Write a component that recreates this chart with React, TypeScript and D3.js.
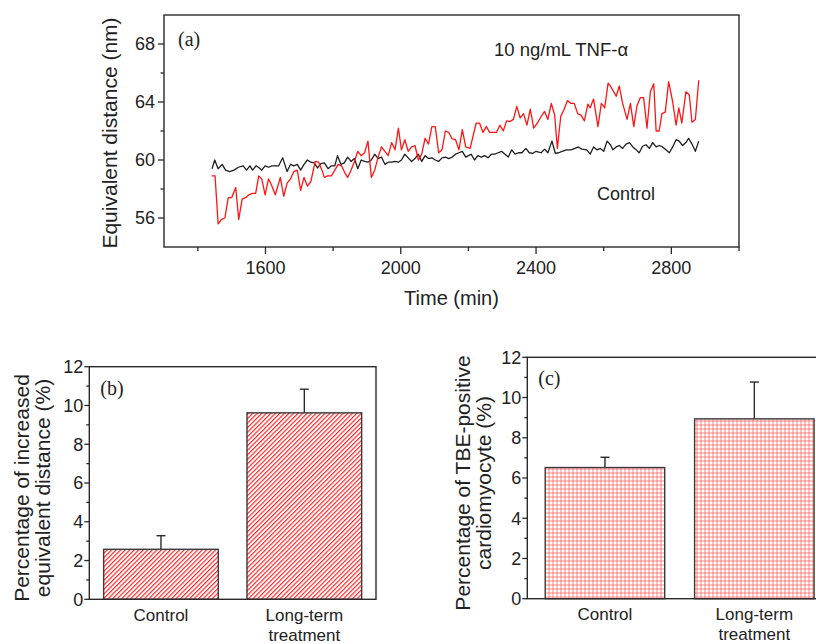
import React from "react";
import * as d3 from "d3";

// panel (a): equivalent distance over time
const tnfPoints: [number, number][] = [
  [1441, 58.9], [1451, 58.9], [1460, 55.6], [1470, 55.9], [1480, 56.0], [1490, 57.4], [1500, 57.4],
  [1512, 58.1], [1521, 55.9], [1531, 57.3], [1541, 57.4], [1551, 57.6], [1561, 57.7], [1571, 57.7],
  [1580, 58.9], [1589, 58.7], [1599, 57.6], [1609, 58.7], [1619, 58.2], [1629, 57.6], [1644, 58.8],
  [1654, 57.5], [1664, 58.4], [1674, 58.7], [1684, 59.2], [1694, 59.3], [1704, 57.9], [1714, 58.8],
  [1724, 58.2], [1734, 58.5], [1747, 59.9], [1757, 59.85], [1767, 59.3], [1774, 58.8], [1784, 58.9],
  [1795, 58.9], [1805, 59.3], [1815, 59.7], [1825, 59.6], [1835, 59.1], [1843, 58.8], [1853, 59.3],
  [1863, 59.9], [1873, 60.6], [1883, 60.3], [1893, 60.5], [1903, 61.3], [1913, 58.8], [1923, 59.3],
  [1933, 60.2], [1943, 60.9], [1953, 60.6], [1963, 60.3], [1973, 61.2], [1983, 60.7], [1993, 62.2],
  [2002, 60.7], [2012, 61.4], [2022, 60.6], [2032, 60.9], [2042, 61.0], [2052, 60.0], [2062, 60.4],
  [2072, 61.5], [2082, 61.1], [2092, 62.3], [2102, 62.3], [2112, 60.5], [2122, 60.7], [2132, 62.0],
  [2142, 61.9], [2152, 61.45], [2162, 61.4], [2172, 60.7], [2182, 62.1], [2192, 60.9], [2205, 60.8],
  [2223, 62.55], [2233, 62.55], [2243, 61.9], [2253, 62.3], [2263, 61.9], [2273, 61.9], [2283, 61.9],
  [2293, 62.4], [2303, 62.0], [2313, 62.7], [2323, 62.65], [2333, 62.8], [2343, 63.7], [2353, 62.9],
  [2363, 63.2], [2373, 62.4], [2383, 63.5], [2393, 62.2], [2405, 62.6], [2415, 63.0], [2425, 63.35],
  [2435, 62.8], [2445, 63.9], [2455, 63.1], [2463, 60.8], [2473, 63.0], [2483, 63.5], [2493, 64.1],
  [2503, 63.9], [2513, 63.9], [2523, 63.2], [2533, 63.1], [2543, 62.7], [2553, 63.85], [2560, 63.6],
  [2570, 64.2], [2583, 62.3], [2593, 63.9], [2603, 63.6], [2613, 65.3], [2620, 65.1], [2627, 64.8],
  [2637, 64.4], [2646, 65.1], [2656, 63.9], [2669, 62.8], [2679, 63.9], [2689, 62.3], [2698, 63.7],
  [2708, 64.3], [2718, 64.3], [2728, 62.2], [2738, 64.7], [2748, 65.25], [2755, 62.0], [2764, 62.0],
  [2772, 63.2], [2782, 63.3], [2792, 65.4], [2804, 64.0], [2814, 62.4], [2822, 63.6], [2831, 62.55],
  [2843, 64.7], [2853, 64.5], [2861, 62.6], [2871, 62.8], [2881, 65.5],
];

const controlPoints: [number, number][] = [
  [1442, 59.4], [1450, 60.0], [1460, 59.4], [1472, 59.7], [1482, 59.3], [1494, 59.2], [1507, 59.3],
  [1520, 59.5], [1534, 59.6], [1544, 59.3], [1554, 59.6], [1562, 59.3], [1572, 59.6], [1582, 59.45],
  [1589, 59.3], [1599, 59.6], [1609, 59.5], [1619, 59.6], [1629, 59.6], [1639, 59.6], [1651, 60.15],
  [1664, 59.2], [1674, 59.7], [1684, 59.6], [1694, 59.7], [1704, 59.3], [1714, 59.7], [1724, 60.0],
  [1734, 59.85], [1744, 59.8], [1754, 59.45], [1764, 59.75], [1774, 59.8], [1785, 59.4], [1795, 59.6],
  [1805, 59.6], [1813, 60.3], [1823, 59.7], [1833, 59.8], [1843, 60.2], [1853, 59.9], [1863, 60.1],
  [1873, 59.4], [1883, 60.0], [1893, 59.9], [1903, 59.85], [1913, 60.0], [1923, 60.4], [1933, 60.1],
  [1943, 60.2], [1953, 59.7], [1963, 59.85], [1973, 59.85], [1983, 59.9], [1993, 59.85], [2002, 60.0],
  [2012, 60.4], [2022, 60.15], [2032, 59.9], [2042, 60.1], [2052, 60.4], [2062, 59.9], [2072, 60.3],
  [2082, 60.1], [2092, 60.15], [2102, 60.0], [2112, 59.9], [2122, 60.15], [2132, 60.2], [2142, 60.1],
  [2152, 60.2], [2162, 60.4], [2172, 60.5], [2182, 60.6], [2192, 60.2], [2200, 60.3], [2208, 60.4],
  [2218, 60.0], [2228, 60.3], [2238, 60.2], [2248, 60.3], [2258, 60.15], [2268, 60.4], [2278, 60.4],
  [2288, 60.5], [2298, 60.6], [2308, 60.4], [2318, 60.2], [2328, 60.7], [2338, 60.4], [2348, 60.5],
  [2358, 60.5], [2370, 60.8], [2380, 60.5], [2390, 60.45], [2400, 60.6], [2415, 60.5], [2425, 60.75],
  [2435, 60.5], [2447, 61.3], [2457, 60.45], [2467, 60.5], [2477, 60.6], [2490, 60.7], [2503, 60.7],
  [2515, 60.8], [2525, 60.9], [2535, 60.75], [2550, 60.7], [2560, 60.4], [2570, 60.9], [2580, 60.7],
  [2590, 60.8], [2600, 60.6], [2610, 61.3], [2620, 61.05], [2627, 60.7], [2637, 60.9], [2646, 61.0],
  [2656, 60.8], [2666, 61.1], [2676, 61.2], [2686, 60.9], [2696, 60.7], [2705, 60.5], [2715, 60.95],
  [2725, 61.05], [2735, 60.8], [2745, 61.2], [2755, 60.9], [2764, 61.0], [2774, 60.9], [2784, 60.7],
  [2794, 60.5], [2804, 60.9], [2814, 61.4], [2823, 61.3], [2833, 61.0], [2843, 61.2], [2851, 61.5],
  [2861, 61.1], [2871, 60.6], [2881, 61.3],
];

const timeTicks = [1600, 2000, 2400, 2800];
const distanceTicks = [56, 60, 64, 68];

// panels (b) and (c)
const groups = ["Control", "Long-term treatment"];
const distanceIncrease = [2.58, 9.62];
const distanceIncreaseErr = [0.7, 1.22];
const tbePositive = [6.52, 8.94];
const tbePositiveErr = [0.51, 1.83];
const percentTicks = [0, 2, 4, 6, 8, 10, 12];

const SANS = "'Liberation Sans', Arial, sans-serif";
const SERIF = "'Liberation Serif', 'Times New Roman', serif";
const INK = "#2a2a2a";

function TimeCourse() {
  const x = d3.scaleLinear().domain([1300, 3000]).range([164, 739]);
  const y = d3.scaleLinear().domain([54, 70]).range([247, 15]);
  const line = d3
    .line<[number, number]>()
    .x((d) => x(d[0]))
    .y((d) => y(d[1]));
  const [x0, x1] = x.range();
  const [y0, y1] = y.range();
  const minorX = d3.range(1400, 3001, 400);
  const minorY = d3.range(58, 70, 4);

  return (
    <g>
      <path d={line(controlPoints) || ""} fill="none" stroke="#1e1e1e" strokeWidth={1.3} strokeLinejoin="round" />
      <path d={line(tnfPoints) || ""} fill="none" stroke="#ff1414" strokeWidth={1.3} strokeLinejoin="round" />
      <rect x={x0} y={y1} width={x1 - x0} height={y0 - y1} fill="none" stroke={INK} strokeWidth={1.4} />

      {timeTicks.map((t) => (
        <g key={t}>
          <line x1={x(t)} x2={x(t)} y1={y0} y2={y0 + 7} stroke={INK} strokeWidth={1.3} />
          <text x={x(t)} y={y0 + 27} textAnchor="middle" fontSize={18} fontFamily={SANS} fill="#222">
            {t}
          </text>
        </g>
      ))}
      {minorX.map((t) => (
        <line key={t} x1={x(t)} x2={x(t)} y1={y0} y2={y0 + 4} stroke={INK} strokeWidth={1.3} />
      ))}
      {distanceTicks.map((v) => (
        <g key={v}>
          <line x1={x0 - 6} x2={x0} y1={y(v)} y2={y(v)} stroke={INK} strokeWidth={1.3} />
          <text x={x0 - 9} y={y(v)} dy="0.36em" textAnchor="end" fontSize={18} fontFamily={SANS} fill="#222">
            {v}
          </text>
        </g>
      ))}
      {minorY.map((v) => (
        <line key={v} x1={x0 - 3.5} x2={x0} y1={y(v)} y2={y(v)} stroke={INK} strokeWidth={1.3} />
      ))}

      <text x={(x0 + x1) / 2} y={305} textAnchor="middle" fontSize={20} fontFamily={SANS} fill="#222">
        Time (min)
      </text>
      <text
        transform={`translate(117, ${(y0 + y1) / 2 + 2}) rotate(-90)`}
        textAnchor="middle"
        fontSize={21}
        fontFamily={SANS}
        fill="#222"
      >
        Equivalent distance (nm)
      </text>
      <text x={178} y={46} fontSize={20} fontFamily={SERIF} fill="#222">
        (a)
      </text>
      <text x={494} y={56} fontSize={18.5} fontFamily={SANS} fill="#222">
        10 ng/mL TNF-α
      </text>
      <text x={597} y={200} fontSize={18} fontFamily={SANS} fill="#222">
        Control
      </text>
    </g>
  );
}

type BarPanelProps = {
  left: number;
  right: number;
  top: number;
  bottom: number;
  values: number[];
  errors: number[];
  fill: string;
  tag: string;
  titleLines: string[];
  titleX: number[];
  catY: number;
  outer: number;
};

function BarPanel({ left, right, top, bottom, values, errors, fill, tag, titleLines, titleX, catY, outer }: BarPanelProps) {
  const x = d3.scaleBand<string>().domain(groups).range([left, right]).paddingInner(0.2).paddingOuter(outer);
  const y = d3.scaleLinear().domain([0, 12]).range([bottom, top]);
  const minor = d3.range(1, 12, 2);

  return (
    <g>
      {groups.map((g, i) => {
        const bx = x(g) || 0;
        const cx = bx + x.bandwidth() / 2;
        return (
          <g key={g}>
            <line x1={cx} x2={cx} y1={y(values[i])} y2={y(values[i] + errors[i])} stroke={INK} strokeWidth={1.4} />
            <line x1={cx - 4.5} x2={cx + 4.5} y1={y(values[i] + errors[i])} y2={y(values[i] + errors[i])} stroke={INK} strokeWidth={1.4} />
            <rect
              x={bx}
              y={y(values[i])}
              width={x.bandwidth()}
              height={y(0) - y(values[i])}
              fill={fill}
              stroke="#3a3a3a"
              strokeWidth={1.4}
            />
            {g.split(" ").map((word, k) => (
              <text
                key={word}
                x={cx}
                y={catY + k * 20}
                textAnchor="middle"
                fontSize={17}
                fontFamily={SANS}
                fill="#222"
              >
                {word}
              </text>
            ))}
          </g>
        );
      })}
      <rect x={left} y={top} width={right - left} height={bottom - top} fill="none" stroke={INK} strokeWidth={1.4} />
      {percentTicks.map((v) => (
        <g key={v}>
          <line x1={left - 5} x2={left} y1={y(v)} y2={y(v)} stroke={INK} strokeWidth={1.3} />
          <text x={left - 6} y={y(v)} dy="0.36em" textAnchor="end" fontSize={18} fontFamily={SANS} fill="#222">
            {v}
          </text>
        </g>
      ))}
      {minor.map((v) => (
        <line key={v} x1={left - 3} x2={left} y1={y(v)} y2={y(v)} stroke={INK} strokeWidth={1.3} />
      ))}
      {titleLines.map((t, k) => (
        <text
          key={t}
          transform={`translate(${titleX[k]}, ${(top + bottom) / 2 + 5}) rotate(-90)`}
          textAnchor="middle"
          fontSize={21}
          fontFamily={SANS}
          fill="#222"
        >
          {t}
        </text>
      ))}
      <text x={left + 11} y={top + 28} fontSize={20} fontFamily={SERIF} fill="#222">
        {tag}
      </text>
    </g>
  );
}

export default function App() {
  return (
    <div style={{ position: "absolute", left: 0, top: 0 }}>
      <svg width={816} height={644} style={{ display: "block", background: "#fff" }}>
        <defs>
          <pattern id="hatch" patternUnits="userSpaceOnUse" width={3.2} height={3.2} patternTransform="rotate(45)">
            <rect width={3.2} height={3.2} fill="#fff" />
            <line x1={0.6} y1={0} x2={0.6} y2={3.2} stroke="#ff2a2a" strokeWidth={1.2} />
          </pattern>
          <pattern id="grid" patternUnits="userSpaceOnUse" width={4} height={4} x={0.5} y={0.5}>
            <rect width={4} height={4} fill="#fff" />
            <line x1={0} y1={0} x2={4} y2={0} stroke="#ff2a2a" strokeWidth={1.1} />
            <line x1={0} y1={0} x2={0} y2={4} stroke="#ff2a2a" strokeWidth={1.1} />
          </pattern>
        </defs>
        <TimeCourse />
        <BarPanel
          left={89.3}
          right={376}
          top={366.7}
          bottom={599.3}
          values={distanceIncrease}
          errors={distanceIncreaseErr}
          fill="url(#hatch)"
          tag="(b)"
          titleLines={["Percentage of increased", "equivalent distance (%)"]}
          titleX={[28.5, 50]}
          catY={621}
          outer={0.1}
        />
        <BarPanel
          left={527.3}
          right={832}
          top={357.3}
          bottom={598.7}
          values={tbePositive}
          errors={tbePositiveErr}
          fill="url(#grid)"
          tag="(c)"
          titleLines={["Percentage of TBE-positive", "cardiomyocyte (%)"]}
          titleX={[470, 491]}
          catY={620}
          outer={0.12}
        />
      </svg>
    </div>
  );
}
